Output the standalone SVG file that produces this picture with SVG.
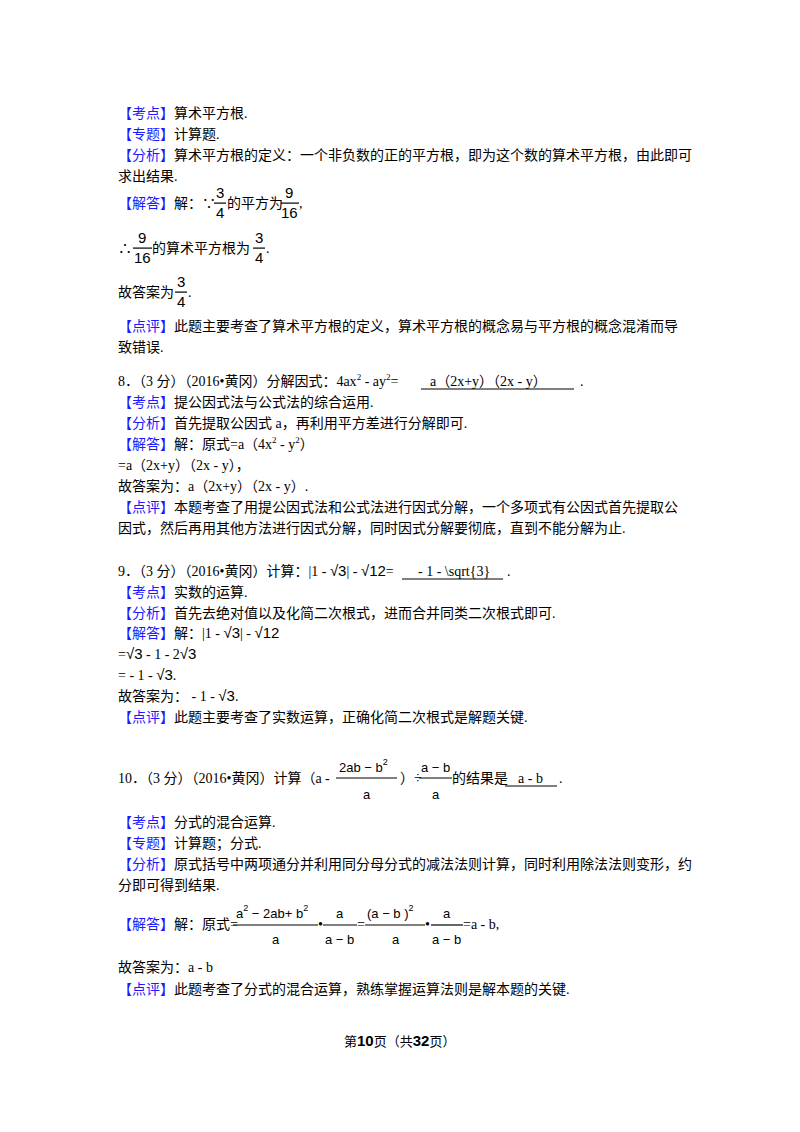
<svg xmlns="http://www.w3.org/2000/svg" width="800" height="1132" viewBox="0 0 800 1132" xml:space="preserve">
<style>
text{font-family:"Liberation Serif","Noto Sans CJK SC",serif;font-size:14px;fill:#000}
.b{fill:#1a1aff}
.m{font-family:"Liberation Sans","Noto Sans CJK SC",sans-serif;font-size:13px}
.f{font-family:"Liberation Sans",sans-serif;font-size:15px}
.s{font-size:9px}
line{stroke:#000;stroke-width:1.2}
.bar{fill:#000}
</style>
<rect width="800" height="1132" fill="#fff"/>
<g id="q7">
<text x="118" y="118"><tspan class="b">【考点】</tspan>算术平方根.</text>
<text x="118" y="139"><tspan class="b">【专题】</tspan>计算题.</text>
<text x="118" y="160"><tspan class="b">【分析】</tspan>算术平方根的定义：一个非负数的正的平方根，即为这个数的算术平方根，由此即可</text>
<text x="118" y="181">求出结果.</text>
<text x="118" y="208"><tspan class="b">【解答】</tspan>解：∵</text>
<text x="216" y="198" class="f">3</text><rect class="bar" x="214" y="202.5" width="12" height="1.2"/><text x="216" y="218" class="f">4</text>
<text x="227" y="208">的平方为</text>
<text x="285" y="198" class="f">9</text><rect class="bar" x="281" y="202.5" width="18" height="1.2"/><text x="281" y="218" class="f">16</text>
<text x="299" y="208">,</text>
<text x="118" y="253">∴</text>
<text x="138" y="243" class="f">9</text><rect class="bar" x="133" y="247.5" width="19" height="1.2"/><text x="134" y="263" class="f">16</text>
<text x="152" y="253">的算术平方根为</text>
<text x="255" y="243" class="f">3</text><rect class="bar" x="253" y="247.5" width="12" height="1.2"/><text x="255" y="263" class="f">4</text>
<text x="266" y="253">.</text>
<text x="118" y="297">故答案为</text>
<text x="177" y="287" class="f">3</text><rect class="bar" x="175" y="291.5" width="12" height="1.2"/><text x="177" y="307" class="f">4</text>
<text x="188" y="297">.</text>
<text x="118" y="331"><tspan class="b">【点评】</tspan>此题主要考查了算术平方根的定义，算术平方根的概念易与平方根的概念混淆而导</text>
<text x="118" y="352">致错误.</text>
</g>
<g id="q8">
<text x="118" y="386">8．（3 分）（2016•黄冈）分解因式：4ax<tspan class="s" dy="-6">2</tspan><tspan dy="6"> - ay</tspan><tspan class="s" dy="-6">2</tspan><tspan dy="6">=</tspan></text>
<text x="430" y="386">a（2x+y）（2x - y）</text>
<text x="580" y="386">.</text>
<line x1="421" y1="389" x2="574" y2="389"/>
<text x="118" y="407"><tspan class="b">【考点】</tspan>提公因式法与公式法的综合运用.</text>
<text x="118" y="428"><tspan class="b">【分析】</tspan>首先提取公因式 a，再利用平方差进行分解即可.</text>
<text x="118" y="449"><tspan class="b">【解答】</tspan>解：原式=a（4x<tspan class="s" dy="-6">2</tspan><tspan dy="6"> - y</tspan><tspan class="s" dy="-6">2</tspan><tspan dy="6">）</tspan></text>
<text x="118" y="470">=a（2x+y）（2x - y），</text>
<text x="118" y="491">故答案为：a（2x+y）（2x - y）.</text>
<text x="118" y="512"><tspan class="b">【点评】</tspan>本题考查了用提公因式法和公式法进行因式分解，一个多项式有公因式首先提取公</text>
<text x="118" y="533">因式，然后再用其他方法进行因式分解，同时因式分解要彻底，直到不能分解为止.</text>
</g>
<g id="q9">
<text x="118" y="576">9．（3 分）（2016•黄冈）计算：|1 - <tspan class="f">√3</tspan>| - <tspan class="f">√12</tspan>=</text>
<text x="418" y="576">- 1 - \sqrt{3}</text>
<text x="507" y="576">.</text>
<line x1="402" y1="579" x2="503" y2="579"/>
<text x="118" y="597"><tspan class="b">【考点】</tspan>实数的运算.</text>
<text x="118" y="618"><tspan class="b">【分析】</tspan>首先去绝对值以及化简二次根式，进而合并同类二次根式即可.</text>
<text x="118" y="638"><tspan class="b">【解答】</tspan>解：|1 - <tspan class="f">√3</tspan>| - <tspan class="f">√12</tspan></text>
<text x="118" y="659">=<tspan class="f">√3</tspan> - 1 - 2<tspan class="f">√3</tspan></text>
<text x="118" y="680">= - 1 - <tspan class="f">√3</tspan>.</text>
<text x="118" y="701">故答案为： - 1 - <tspan class="f">√3</tspan>.</text>
<text x="118" y="722"><tspan class="b">【点评】</tspan>此题主要考查了实数运算，正确化简二次根式是解题关键.</text>
</g>
<g id="q10">
<text x="118" y="783">10．（3 分）（2016•黄冈）计算（a -</text>
<text x="339" y="772" class="m">2ab − b<tspan class="s" dy="-7">2</tspan></text>
<line x1="336" y1="778" x2="397" y2="778"/>
<text x="363" y="799" class="m">a</text>
<text x="400" y="783">）÷</text>
<text x="421" y="772" class="m">a − b</text>
<line x1="419" y1="778" x2="452" y2="778"/>
<text x="432" y="799" class="m">a</text>
<text x="452" y="783">的结果是</text>
<text x="518" y="783">a - b</text>
<text x="559" y="783">.</text>
<line x1="505" y1="786" x2="557" y2="786"/>
<text x="118" y="827"><tspan class="b">【考点】</tspan>分式的混合运算.</text>
<text x="118" y="848"><tspan class="b">【专题】</tspan>计算题；分式.</text>
<text x="118" y="869"><tspan class="b">【分析】</tspan>原式括号中两项通分并利用同分母分式的减法法则计算，同时利用除法法则变形，约</text>
<text x="118" y="890">分即可得到结果.</text>
<text x="118" y="929"><tspan class="b">【解答】</tspan>解：原式=</text>
<text x="236" y="918" class="m">a<tspan class="s" dy="-7">2</tspan><tspan dy="7"> − 2ab+ b</tspan><tspan class="s" dy="-7">2</tspan></text>
<line x1="233" y1="925" x2="318" y2="925"/>
<text x="272" y="944" class="m">a</text>
<text x="318" y="929">•</text>
<text x="336" y="918" class="m">a</text>
<line x1="323" y1="925" x2="357" y2="925"/>
<text x="325" y="944" class="m">a − b</text>
<text x="357" y="929">=</text>
<text x="367" y="918" class="m">(a − b )<tspan class="s" dy="-7">2</tspan></text>
<line x1="365" y1="925" x2="425" y2="925"/>
<text x="392" y="944" class="m">a</text>
<text x="425" y="929">•</text>
<text x="443" y="918" class="m">a</text>
<line x1="431" y1="925" x2="463" y2="925"/>
<text x="432" y="944" class="m">a − b</text>
<text x="463" y="929">=a - b,</text>
<text x="118" y="972">故答案为：a - b</text>
<text x="118" y="994"><tspan class="b">【点评】</tspan>此题考查了分式的混合运算，熟练掌握运算法则是解本题的关键.</text>
</g>
<g id="footer">
<text x="344" y="1046" style="font-size:13px">第<tspan style="font-weight:bold;font-family:'Liberation Sans',sans-serif;font-size:15px">10</tspan>页（共<tspan style="font-weight:bold;font-family:'Liberation Sans',sans-serif;font-size:15px">32</tspan>页）</text>
</g>
</svg>
